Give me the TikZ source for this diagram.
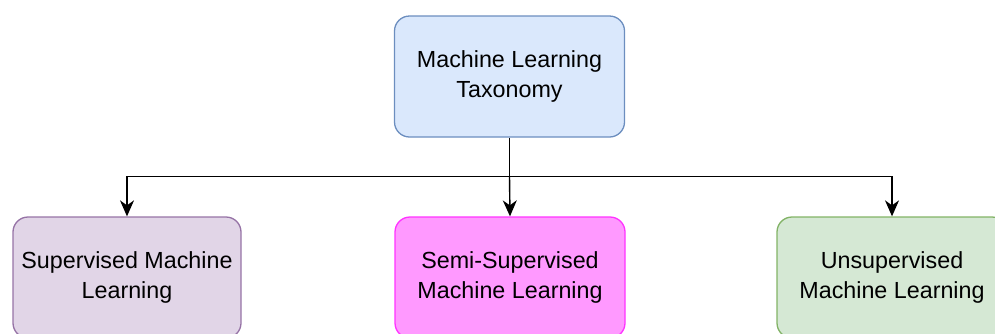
\documentclass[tikz,border=0pt]{standalone}
\usepackage{fontspec}
\setmainfont{Liberation Sans}
\usetikzlibrary{arrows.meta, positioning}

\definecolor{topfill}{HTML}{DAE8FC}
\definecolor{topline}{HTML}{6C8EBF}
\definecolor{supfill}{HTML}{E1D5E7}
\definecolor{supline}{HTML}{9673A6}
\definecolor{semifill}{HTML}{FF99FF}
\definecolor{semiline}{HTML}{FF33FF}
\definecolor{unsfill}{HTML}{D5E8D4}
\definecolor{unsline}{HTML}{82B366}

\tikzset{
    mlbox/.style={draw, line width=1.3pt, rounded corners=15pt, align=center,
        minimum width=230pt, minimum height=121pt, inner sep=0pt,
        font=\fontsize{23.3}{30}\selectfont},
    flow/.style={line width=1.4pt, -{Stealth[length=16pt, width=14pt, inset=5pt]}}
}

\begin{document}
\begin{tikzpicture}[x=1pt, y=-1pt]
        \useasboundingbox (0,0) rectangle (995,333);
        % Root
        \node[mlbox, fill=topfill, draw=topline] (taxonomy) at (509.5,76.5)
            {Machine Learning\\Taxonomy};
        % Branches
        \node[mlbox, minimum width=228pt, fill=supfill, draw=supline] (supervised) at (127,277.5)
            {Supervised Machine\\Learning};
        \node[mlbox, fill=semifill, draw=semiline] (semi) at (510,277.5)
            {Semi-Supervised\\Machine Learning};
        \node[mlbox, fill=unsfill, draw=unsline] (unsupervised) at (892,277.5)
            {Unsupervised\\Machine Learning};
        % Arrows
        \coordinate (split) at ([yshift=-39pt]taxonomy.south);
        \draw[line width=1.4pt] (taxonomy.south) -- (split);
        \draw[flow] (split) -| (supervised.north);
        \draw[flow] (split) -- (semi.north);
        \draw[flow] (split) -| (unsupervised.north);
    \end{tikzpicture}
\end{document}
